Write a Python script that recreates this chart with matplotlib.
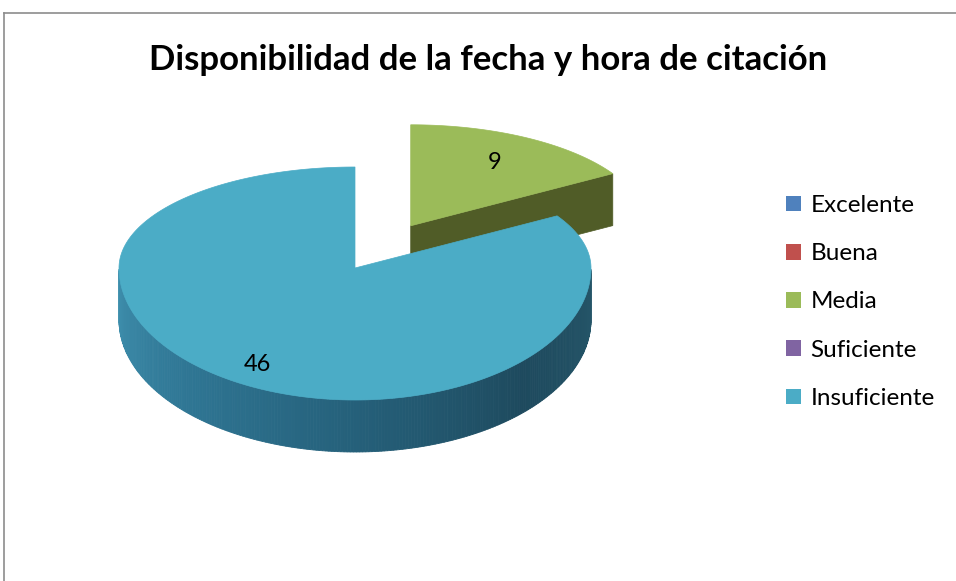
import numpy as np
import matplotlib
matplotlib.use("Agg")
import matplotlib.pyplot as plt
from matplotlib.patches import Polygon, Patch
from matplotlib.lines import Line2D
from matplotlib.colors import LinearSegmentedColormap

# data (Excel 3D pie, only two non-zero answers)
categories = ["Excelente", "Buena", "Media", "Suficiente", "Insuficiente"]
values = [0, 0, 9, 0, 46]
exploded = [False, False, True, False, False]
colors = ["#4f81bd", "#c0504d", "#9bbb59", "#8064a2", "#4bacc6"]
cut_colors = ["#34557d", "#7f3533", "#505c27", "#54426b", "#2c6f84"]
title = "Disponibilidad de la fecha y hora de citación"

W, H = 956, 581
CX, CY = 355, 268          # pie centre (pixels, y down)
RX = 236
RY_BACK, RY_FRONT = 101, 132  # a bit of perspective: front half looks bigger
DEPTH = 52
EXPLODE = 0.48

side_cmap = LinearSegmentedColormap.from_list(
    "side", ["#3f90ae", "#2f7694", "#25607a", "#1e4a5e", "#255669"])

FONT = ["Lato", "DejaVu Sans"]


def ellipse(theta, cx, cy):
    t = np.radians(theta)
    ry = np.where(np.sin(t) > 0, RY_BACK, RY_FRONT)
    return cx + RX * np.cos(t), cy - ry * np.sin(t)


fig = plt.figure(figsize=(W / 100, H / 100), dpi=100)
ax = fig.add_axes([0, 0, 1, 1])
ax.set_xlim(0, W)
ax.set_ylim(H, 0)
ax.axis("off")

total = sum(values)
start = 90.0
slices = []
for v, ex, c, cc in zip(values, exploded, colors, cut_colors):
    if v == 0:
        continue
    a0 = start
    a1 = start - 360.0 * v / total
    start = a1
    mid = (a0 + a1) / 2
    cx, cy = CX, CY
    if ex:
        ox, oy = ellipse(mid, 0, 0)
        cx, cy = CX + EXPLODE * ox, CY + EXPLODE * oy
    slices.append((v, a0, a1, mid, cx, cy, c, cc, ex))

# exploded (back) slice first so the big slice sits in front of it
slices.sort(key=lambda s: not s[8])

for v, a0, a1, mid, cx, cy, c, cc, ex in slices:
    # cut face at the clockwise end, visible when it faces the viewer
    if np.sin(np.radians(a1 - 90)) < -1e-6:
        x1, y1 = ellipse(a1, cx, cy)
        ax.add_patch(Polygon([(cx, cy), (x1, y1), (x1, y1 + DEPTH), (cx, cy + DEPTH)],
                             closed=True, facecolor=cc, edgecolor=cc, lw=0.5))
    # outer side wall on the front half, drawn as thin strips for shading
    th = np.linspace(a1, a0, 400)
    front = np.sin(np.radians(th)) < 0
    th = th[front]
    for t0, t1 in zip(th[:-1], th[1:]):
        xa, ya = ellipse(t0, cx, cy)
        xb, yb = ellipse(t1, cx, cy)
        f = ((t0 % 360) - 180) / 180
        col = side_cmap(np.clip(f, 0, 1))
        ax.add_patch(Polygon([(xa, ya), (xb, yb), (xb, yb + DEPTH), (xa, ya + DEPTH)],
                             closed=True, facecolor=col, edgecolor=col, lw=0.6))
    # top face
    th = np.linspace(a1, a0, 300)
    xs, ys = ellipse(th, cx, cy)
    pts = [(cx, cy)] + list(zip(xs, ys))
    ax.add_patch(Polygon(pts, closed=True, facecolor=c, edgecolor=c, lw=0.5))
    # value label
    r = 0.72 if ex else 0.84
    lx, ly = ellipse(mid, 0, 0)
    ax.text(cx + r * lx, cy + r * ly, f"{v}", ha="center", va="center",
            fontsize=17, family=FONT, color="black")

ax.text(488, 60, title, ha="center", va="center", fontsize=25,
        fontweight="bold", family=FONT, color="black")

handles = [Patch(facecolor=c, edgecolor="none") for c in colors]
leg = ax.legend(handles, categories, loc="center left",
                bbox_to_anchor=(764 / W, 1 - 302 / H), frameon=False,
                prop={"family": FONT, "size": 17.5}, handlelength=0.62,
                handleheight=0.62, handletextpad=0.4, labelspacing=1.12)

# chart-area border (only top and left edges are inside the crop)
fig.add_artist(Line2D([4 / W, 1], [1 - 13 / H, 1 - 13 / H], color="#8c8c8c", lw=1.2))
fig.add_artist(Line2D([4 / W, 4 / W], [0, 1 - 13 / H], color="#8c8c8c", lw=1.2))

fig.savefig("out.png", dpi=100)
